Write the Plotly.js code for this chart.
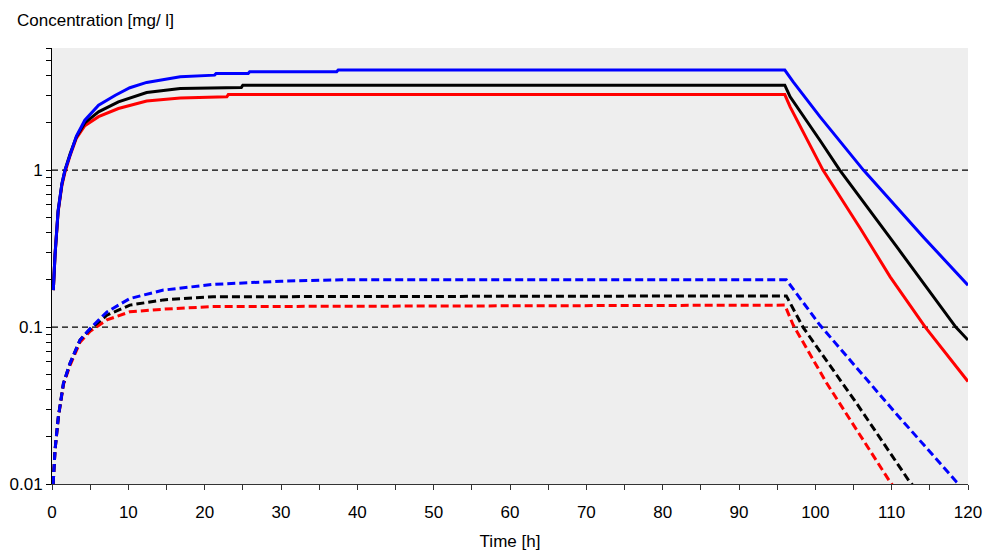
<!DOCTYPE html>
<html>
<head>
<meta charset="utf-8">
<script src="https://cdn.plot.ly/plotly-3.0.1.min.js"></script>
<style>
html,body{margin:0;padding:0;background:#fff;}
#chart{width:984px;height:551px;}
</style>
</head>
<body>
<div id="chart"></div>
<script>
// ---- data ----
// solid curves
const tBlueSolid = [0.17, 0.4, 0.8, 1.3, 1.7, 2.4, 3.2, 4.3, 6.1, 8.3, 10.2, 12.4, 16.8, 21.3, 21.5, 25.7, 25.9, 37.3, 37.5, 96.0, 97.1, 100.6, 106.3, 114.2, 120];
const cBlueSolid = [0.172, 0.29, 0.55, 0.82, 1.0, 1.28, 1.65, 2.08, 2.59, 3.0, 3.35, 3.62, 3.93, 4.03, 4.13, 4.13, 4.24, 4.24, 4.34, 4.34, 3.65, 2.19, 1.0, 0.372, 0.185];

const tBlackSolid = [0.17, 0.4, 0.8, 1.3, 1.7, 2.4, 3.2, 4.3, 6.1, 8.7, 12.4, 16.8, 24.8, 25.0, 96.0, 96.7, 100.6, 103.2, 110.8, 118.4, 120];
const cBlackSolid = [0.172, 0.29, 0.55, 0.82, 1.0, 1.28, 1.63, 2.0, 2.35, 2.72, 3.12, 3.31, 3.36, 3.48, 3.48, 2.93, 1.55, 1.0, 0.318, 0.1, 0.0826];

const tRedSolid = [0.17, 0.4, 0.8, 1.3, 1.7, 2.4, 3.2, 4.3, 6.1, 8.7, 12.4, 16.8, 22.9, 23.1, 96.0, 96.7, 101.0, 105.9, 109.8, 114.4, 120];
const cRedSolid = [0.172, 0.29, 0.54, 0.80, 0.97, 1.25, 1.6, 1.92, 2.19, 2.47, 2.76, 2.88, 2.93, 3.03, 3.03, 2.53, 1.0, 0.425, 0.209, 0.1, 0.045];

// dashed curves
const tBlueDash = [0.15, 0.4, 0.83, 1.5, 2.36, 3.67, 5.0, 7.2, 10.2, 14.6, 21.1, 30, 38, 96.2, 100.6, 110.2, 118.5, 120];
const cBlueDash = [0.01, 0.0165, 0.0268, 0.0438, 0.0587, 0.0826, 0.098, 0.125, 0.152, 0.172, 0.187, 0.196, 0.2, 0.2, 0.103, 0.0295, 0.0103, 0.0087];

const tBlackDash = [0.15, 0.4, 0.83, 1.5, 2.36, 3.67, 5.0, 7.2, 10.2, 14.6, 21.1, 96.2, 98.4, 105.4, 112.2, 113];
const cBlackDash = [0.01, 0.0165, 0.0268, 0.0438, 0.0587, 0.0826, 0.097, 0.119, 0.138, 0.149, 0.156, 0.158, 0.0995, 0.0327, 0.0106, 0.0095];

const tRedDash = [0.15, 0.4, 0.83, 1.5, 2.36, 3.67, 5.0, 7.2, 10.2, 14.6, 21.1, 96.0, 97.1, 101.5, 109.8, 110.5];
const cRedDash = [0.01, 0.0165, 0.0265, 0.043, 0.057, 0.080, 0.094, 0.111, 0.125, 0.130, 0.135, 0.138, 0.103, 0.0438, 0.0103, 0.0093];

// reference levels
const refLevels = [1, 0.1];

// axis ticks
const xTickVals = [0,5,10,15,20,25,30,35,40,45,50,55,60,65,70,75,80,85,90,95,100,105,110,115,120];
const xTickText = ['0','','10','','20','','30','','40','','50','','60','','70','','80','','90','','100','','110','','120'];
const yTickVals = [0.01,0.02,0.03,0.04,0.05,0.06,0.07,0.08,0.09,0.1,0.2,0.3,0.4,0.5,0.6,0.7,0.8,0.9,1,2,3,4,5,6];
const yTickText = ['0.01','','','','','','','','','0.1','','','','','','','','','1','','','','',''];

const FONT = 'Liberation Sans, Arial, sans-serif';

function line(x, y, color, dash) {
  return {
    x: x, y: y, type: 'scatter', mode: 'lines',
    line: {color: color, width: 3, dash: dash || 'solid'},
    hoverinfo: 'skip', showlegend: false
  };
}

const traces = [
  line(tRedDash, cRedDash, '#ff0000', '8px,4px'),
  line(tBlackDash, cBlackDash, '#000000', '8px,4px'),
  line(tBlueDash, cBlueDash, '#0000ff', '8px,4px'),
  line(tRedSolid, cRedSolid, '#ff0000'),
  line(tBlackSolid, cBlackSolid, '#000000'),
  line(tBlueSolid, cBlueSolid, '#0000ff')
];

const shapes = refLevels.map(v => ({
  type: 'line', xref: 'paper', x0: 0, x1: 1, yref: 'y', y0: v, y1: v,
  line: {color: '#000', width: 1.2, dash: '6px,4px'}, layer: 'below'
}));

const layout = {
  width: 984, height: 551,
  margin: {l: 52, r: 16, t: 48, b: 67, pad: 0},
  paper_bgcolor: '#ffffff',
  plot_bgcolor: '#eeeeee',
  font: {family: FONT, size: 17, color: '#000'},
  showlegend: false,
  title: {
    text: 'Concentration [mg/ l]',
    xref: 'container', yref: 'container',
    x: 17/984, xanchor: 'left',
    y: 1 - 20/551, yanchor: 'middle',
    font: {family: FONT, size: 17, color: '#000'}
  },
  xaxis: {
    range: [0, 120],
    tickmode: 'array', tickvals: xTickVals, ticktext: xTickText,
    ticks: 'outside', ticklen: 5, tickwidth: 1, tickcolor: '#333',
    showline: true, linecolor: '#333', linewidth: 1,
    showgrid: false, zeroline: false,
    ticklabelstandoff: 8,
    tickfont: {family: FONT, size: 17, color: '#000'},
    title: {text: 'Time [h]', font: {family: FONT, size: 17, color: '#000'}, standoff: 13}
  },
  yaxis: {
    type: 'log',
    range: [-2, Math.log10(6)],
    tickmode: 'array', tickvals: yTickVals, ticktext: yTickText,
    ticks: 'outside', ticklen: 5, tickwidth: 1, tickcolor: '#000',
    showline: true, linecolor: '#000', linewidth: 1,
    showgrid: false, zeroline: false,
    tickfont: {family: FONT, size: 17, color: '#000'}
  },
  shapes: shapes
};

Plotly.newPlot('chart', traces, layout, {displayModeBar: false, staticPlot: true});
</script>
</body>
</html>
